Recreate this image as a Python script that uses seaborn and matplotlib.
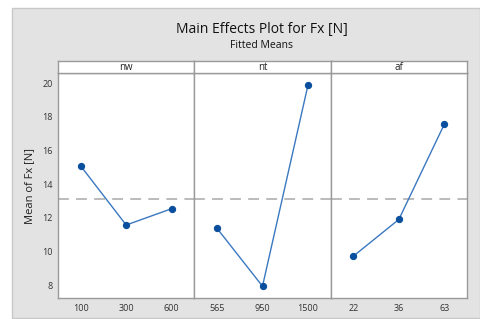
import pandas as pd
import numpy as np
import matplotlib.pyplot as plt
import seaborn as sns
from matplotlib.patches import Rectangle

factors = ['nw', 'nt', 'af']
nw_levels = ['100', '300', '600']
nw_means = [15.08, 11.57, 12.54]
nt_levels = ['565', '950', '1500']
nt_means = [11.37, 7.93, 19.88]
af_levels = ['22', '36', '63']
af_means = [9.72, 11.90, 17.56]
grand_mean = 13.1
y_ticks = [8, 10, 12, 14, 16, 18, 20]

levels = [nw_levels, nt_levels, af_levels]
means = [nw_means, nt_means, af_means]

sns.set_style('white')
plt.rcParams['font.family'] = ['Open Sans', 'DejaVu Sans']

line_col = '#3a78c0'
dot_col = '#0a4f9e'
frame_col = '#9a9a9a'
text_col = '#333333'

fig = plt.figure(figsize=(4.8, 3.19), dpi=100)
fig.patch.set_facecolor('white')
# gray backdrop behind the panels
fig.patches.append(Rectangle((12 / 480, 1 / 319), 468 / 480, 310 / 319, transform=fig.transFigure,
                             facecolor='#e3e3e3', edgecolor='#c8c8c8', lw=1, zorder=-10))

left, right = 58 / 480, 467 / 480
bottom, top = 1 - 298 / 319, 1 - 73 / 319
strip_h = 12 / 319
w = (right - left) / 3

for i, (name, lv, mv) in enumerate(zip(factors, levels, means)):
    ax = fig.add_axes([left + i * w, bottom, w, top - bottom])
    df = pd.DataFrame({'level': lv, 'mean': mv})
    sns.pointplot(data=df, x='level', y='mean', order=lv, color=line_col,
                  markers='o', markersize=4.5, linewidth=1.0, ax=ax)
    for ln in ax.lines:
        ln.set_markerfacecolor(dot_col)
        ln.set_markeredgecolor(dot_col)
    ax.axhline(grand_mean, color='#b5b5b5', lw=1.3, ls=(0, (6, 4)), zorder=1)
    ax.set_xlim(-0.5, 2.5)
    ax.set_ylim(7.23, 20.61)
    ax.set_facecolor('white')
    ax.set_xlabel('')
    ax.set_ylabel('')
    for s in ax.spines.values():
        s.set_color(frame_col)
        s.set_linewidth(1)
    ax.tick_params(axis='x', colors=frame_col, labelcolor=text_col, labelsize=6.5, length=2, width=0.6, pad=2)
    ax.set_yticks(y_ticks)
    if i == 0:
        ax.tick_params(axis='y', colors=frame_col, labelcolor=text_col, labelsize=6.5, length=2, width=0.6, pad=2)
        ax.set_ylabel('Mean of Fx [N]', fontsize=8, color='#222222', labelpad=5)
    else:
        ax.tick_params(axis='y', left=False, labelleft=False)

    sax = fig.add_axes([left + i * w, top, w, strip_h])
    sax.set_xticks([])
    sax.set_yticks([])
    sax.set_facecolor('white')
    for s in sax.spines.values():
        s.set_color(frame_col)
        s.set_linewidth(1)
    sax.text(0.5, 0.45, name, ha='center', va='center', fontsize=7, color='#222222',
             transform=sax.transAxes)

fig.text(0.545, 1 - 30 / 319, 'Main Effects Plot for Fx [N]', ha='center', va='center',
         fontsize=10, color='#111111')
fig.text(0.545, 1 - 45 / 319, 'Fitted Means', ha='center', va='center',
         fontsize=7.5, color='#111111')

fig.savefig('out.png', dpi=100)
